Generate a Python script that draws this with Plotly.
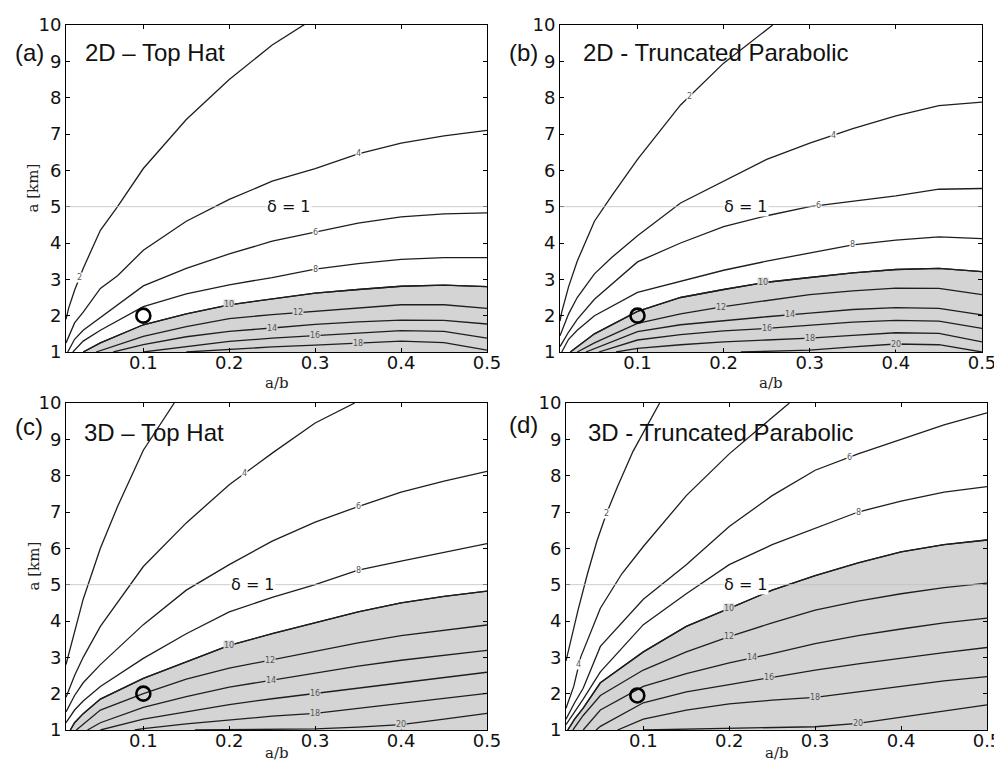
import numpy as np
import plotly.graph_objects as go

# ---------------- data ----------------
LEVELS = [2, 4, 6, 8, 10, 12, 14, 16, 18, 20]
SHADE_LEVEL = 10

# Panel (a) 2D - Top Hat
A_X = [
    [0.01, 0.013, 0.02, 0.03, 0.05, 0.07, 0.1, 0.15, 0.2, 0.25, 0.29],
    [0.01, 0.02, 0.03, 0.05, 0.07, 0.1, 0.15, 0.2, 0.25, 0.3, 0.35, 0.4, 0.45, 0.5],
    [0.012, 0.02, 0.03, 0.05, 0.1, 0.15, 0.2, 0.25, 0.3, 0.35, 0.4, 0.45, 0.5],
    [0.018, 0.03, 0.05, 0.1, 0.15, 0.2, 0.25, 0.3, 0.35, 0.4, 0.45, 0.5],
    [0.03, 0.05, 0.1, 0.15, 0.2, 0.25, 0.3, 0.35, 0.4, 0.45, 0.5],
    [0.045, 0.1, 0.15, 0.2, 0.25, 0.3, 0.35, 0.4, 0.45, 0.5],
    [0.065, 0.1, 0.15, 0.2, 0.25, 0.3, 0.35, 0.4, 0.45, 0.5],
    [0.1, 0.15, 0.2, 0.25, 0.3, 0.35, 0.4, 0.45, 0.5],
    [0.15, 0.2, 0.25, 0.3, 0.35, 0.4, 0.45, 0.5],
]
A_Y = [
    [1.9, 2.2, 2.7, 3.3, 4.35, 5.0, 6.05, 7.4, 8.5, 9.45, 10.05],
    [1.25, 1.8, 2.1, 2.75, 3.1, 3.8, 4.6, 5.2, 5.7, 6.05, 6.45, 6.75, 6.95, 7.1],
    [1.0, 1.35, 1.6, 1.95, 2.82, 3.3, 3.7, 4.05, 4.3, 4.55, 4.72, 4.8, 4.83],
    [1.0, 1.3, 1.6, 2.25, 2.6, 2.85, 3.05, 3.28, 3.43, 3.55, 3.6, 3.6],
    [1.0, 1.25, 1.75, 2.05, 2.3, 2.47, 2.62, 2.72, 2.81, 2.84, 2.8],
    [1.0, 1.43, 1.7, 1.92, 2.03, 2.12, 2.22, 2.3, 2.3, 2.2],
    [1.0, 1.2, 1.42, 1.57, 1.66, 1.76, 1.83, 1.88, 1.87, 1.77],
    [1.0, 1.15, 1.29, 1.38, 1.45, 1.53, 1.59, 1.57, 1.38],
    [1.0, 1.08, 1.14, 1.19, 1.24, 1.3, 1.26, 1.05],
]
A_LABEL_X = [0.026, 0.35, 0.3, 0.3, 0.2, 0.28, 0.25, 0.3, 0.35]

# Panel (b) 2D - Truncated Parabolic
B_X = [
    [0.01, 0.012, 0.02, 0.03, 0.05, 0.07, 0.1, 0.15, 0.2, 0.257],
    [0.01, 0.02, 0.03, 0.05, 0.07, 0.1, 0.15, 0.2, 0.25, 0.3, 0.35, 0.4, 0.45, 0.5],
    [0.01, 0.02, 0.03, 0.05, 0.1, 0.15, 0.2, 0.25, 0.3, 0.35, 0.4, 0.45, 0.5],
    [0.012, 0.02, 0.03, 0.05, 0.1, 0.15, 0.2, 0.25, 0.3, 0.35, 0.4, 0.45, 0.5],
    [0.022, 0.05, 0.1, 0.15, 0.2, 0.25, 0.3, 0.35, 0.4, 0.45, 0.5],
    [0.03, 0.05, 0.1, 0.15, 0.2, 0.25, 0.3, 0.35, 0.4, 0.45, 0.5],
    [0.04, 0.1, 0.15, 0.2, 0.25, 0.3, 0.35, 0.4, 0.45, 0.5],
    [0.055, 0.1, 0.15, 0.2, 0.25, 0.3, 0.35, 0.4, 0.45, 0.5],
    [0.075, 0.1, 0.15, 0.2, 0.25, 0.3, 0.35, 0.4, 0.45, 0.5],
    [0.22, 0.3, 0.35, 0.4, 0.45, 0.5],
]
B_Y = [
    [1.85, 2.1, 2.8, 3.5, 4.6, 5.3, 6.3, 7.8, 8.95, 10.0],
    [1.45, 2.05, 2.5, 3.15, 3.6, 4.2, 5.1, 5.7, 6.3, 6.75, 7.15, 7.5, 7.78, 7.88],
    [1.15, 1.55, 1.9, 2.45, 3.48, 4.0, 4.45, 4.75, 5.0, 5.15, 5.3, 5.48, 5.5],
    [1.0, 1.35, 1.6, 2.0, 2.64, 2.95, 3.25, 3.5, 3.72, 3.95, 4.08, 4.17, 4.12],
    [1.0, 1.5, 2.12, 2.5, 2.72, 2.92, 3.05, 3.18, 3.27, 3.3, 3.21],
    [1.0, 1.25, 1.79, 2.05, 2.25, 2.42, 2.58, 2.68, 2.76, 2.75, 2.58],
    [1.0, 1.56, 1.75, 1.87, 1.97, 2.07, 2.17, 2.22, 2.2, 2.02],
    [1.0, 1.33, 1.48, 1.58, 1.65, 1.74, 1.82, 1.87, 1.85, 1.65],
    [1.0, 1.1, 1.2, 1.28, 1.33, 1.38, 1.46, 1.53, 1.51, 1.28],
    [1.0, 1.05, 1.14, 1.22, 1.2, 1.0],
]
B_LABEL_X = [0.16, 0.327, 0.31, 0.35, 0.246, 0.197, 0.277, 0.25, 0.3, 0.4]

# Panel (c) 3D - Top Hat
C_X = [
    [0.01, 0.02, 0.03, 0.05, 0.07, 0.1, 0.136],
    [0.01, 0.02, 0.03, 0.05, 0.1, 0.15, 0.2, 0.25, 0.3, 0.346],
    [0.01, 0.02, 0.03, 0.05, 0.1, 0.15, 0.2, 0.25, 0.3, 0.35, 0.4, 0.45, 0.5],
    [0.01, 0.02, 0.03, 0.05, 0.1, 0.15, 0.2, 0.25, 0.3, 0.35, 0.4, 0.45, 0.5],
    [0.015, 0.02, 0.03, 0.05, 0.1, 0.15, 0.2, 0.25, 0.3, 0.35, 0.4, 0.45, 0.5],
    [0.022, 0.05, 0.1, 0.15, 0.2, 0.25, 0.3, 0.35, 0.4, 0.45, 0.5],
    [0.035, 0.05, 0.1, 0.15, 0.2, 0.25, 0.3, 0.35, 0.4, 0.45, 0.5],
    [0.05, 0.1, 0.15, 0.2, 0.25, 0.3, 0.35, 0.4, 0.45, 0.5],
    [0.09, 0.1, 0.15, 0.2, 0.25, 0.3, 0.35, 0.4, 0.45, 0.5],
    [0.16, 0.3, 0.35, 0.4, 0.45, 0.5],
]
C_Y = [
    [2.8, 3.7, 4.6, 6.0, 7.15, 8.7, 10.0],
    [1.9, 2.5, 3.0, 3.85, 5.5, 6.7, 7.75, 8.62, 9.45, 10.0],
    [1.5, 1.95, 2.3, 2.8, 3.9, 4.85, 5.55, 6.2, 6.72, 7.15, 7.55, 7.85, 8.12],
    [1.2, 1.55, 1.8, 2.2, 2.97, 3.65, 4.25, 4.65, 5.0, 5.4, 5.65, 5.9, 6.13],
    [1.0, 1.2, 1.45, 1.85, 2.42, 2.88, 3.33, 3.65, 3.94, 4.25, 4.5, 4.68, 4.82],
    [1.0, 1.55, 2.0, 2.4, 2.7, 2.93, 3.18, 3.4, 3.6, 3.75, 3.89],
    [1.0, 1.2, 1.62, 1.92, 2.18, 2.38, 2.58, 2.76, 2.92, 3.06, 3.19],
    [1.0, 1.3, 1.5, 1.7, 1.86, 2.01, 2.15, 2.3, 2.45, 2.59],
    [1.0, 1.04, 1.17, 1.28, 1.38, 1.46, 1.6, 1.74, 1.88, 2.01],
    [1.0, 1.03, 1.08, 1.15, 1.3, 1.46],
]
C_LABEL_X = [None, 0.218, 0.35, 0.35, 0.2, 0.247, 0.249, 0.3, 0.3, 0.4]

# Panel (d) 3D - Truncated Parabolic
D_X = [
    [0.01, 0.015, 0.024, 0.035, 0.046, 0.057, 0.07, 0.088, 0.1, 0.119],
    [0.01, 0.019, 0.027, 0.05, 0.075, 0.1, 0.15, 0.2, 0.25, 0.27],
    [0.01, 0.02, 0.03, 0.05, 0.1, 0.15, 0.2, 0.25, 0.3, 0.35, 0.4, 0.45, 0.5],
    [0.01, 0.02, 0.03, 0.05, 0.1, 0.15, 0.2, 0.25, 0.3, 0.35, 0.4, 0.45, 0.5],
    [0.012, 0.02, 0.03, 0.05, 0.1, 0.15, 0.2, 0.25, 0.3, 0.35, 0.4, 0.45, 0.5],
    [0.018, 0.03, 0.05, 0.1, 0.15, 0.2, 0.25, 0.3, 0.35, 0.4, 0.45, 0.5],
    [0.03, 0.05, 0.1, 0.15, 0.2, 0.25, 0.3, 0.35, 0.4, 0.45, 0.5],
    [0.045, 0.05, 0.1, 0.15, 0.2, 0.25, 0.3, 0.35, 0.4, 0.45, 0.5],
    [0.07, 0.1, 0.15, 0.2, 0.25, 0.3, 0.35, 0.4, 0.45, 0.5],
    [0.1, 0.3, 0.35, 0.4, 0.45, 0.5],
]
D_Y = [
    [2.9, 3.4, 4.3, 5.3, 6.2, 6.95, 7.7, 8.67, 9.2, 10.0],
    [1.6, 2.2, 3.0, 4.35, 5.3, 6.05, 7.45, 8.6, 9.6, 10.0],
    [1.3, 1.75, 2.15, 3.3, 4.6, 5.55, 6.6, 7.45, 8.15, 8.6, 9.0, 9.4, 9.73],
    [1.15, 1.5, 1.85, 2.6, 3.9, 4.75, 5.55, 6.1, 6.55, 7.0, 7.3, 7.55, 7.7],
    [1.0, 1.3, 1.6, 2.3, 3.15, 3.85, 4.35, 4.85, 5.25, 5.6, 5.9, 6.1, 6.23],
    [1.0, 1.4, 1.95, 2.65, 3.15, 3.57, 3.95, 4.3, 4.55, 4.75, 4.92, 5.04],
    [1.0, 1.55, 2.2, 2.55, 2.85, 3.1, 3.38, 3.6, 3.78, 3.95, 4.08],
    [1.0, 1.1, 1.75, 2.05, 2.25, 2.45, 2.65, 2.82, 2.98, 3.13, 3.27],
    [1.0, 1.3, 1.55, 1.72, 1.82, 1.9, 2.05, 2.2, 2.35, 2.47],
    [1.0, 1.09, 1.18, 1.35, 1.5, 1.69],
]
D_LABEL_X = [0.057, 0.025, 0.34, 0.35, 0.2, 0.2, 0.227, 0.246, 0.3, 0.35]

PANEL_LETTERS = ["(a)", "(b)", "(c)", "(d)"]
PANEL_TITLES = ["2D \u2013 Top Hat", "2D - Truncated Parabolic",
                "3D \u2013 Top Hat", "3D - Truncated Parabolic"]
X_TITLE = "a/b"
Y_TITLE = "a [km]"
CIRCLE_X = [0.1, 0.1, 0.1, 0.093]
CIRCLE_Y = [2.0, 2.0, 2.0, 1.95]
DELTA_Y = 5.0
DELTA_LABEL_X = [0.27, 0.226, 0.228, 0.22]
X_TICKS = [0.1, 0.2, 0.3, 0.4, 0.5]
Y_TICKS = [1, 2, 3, 4, 5, 6, 7, 8, 9, 10]
X_RANGE = [0.01, 0.5]
Y_RANGE = [1, 10]

# ---------------- layout geometry ----------------
# target positions are screenshot pixels; the page body adds an 8px offset
OFF = 8
W, H = 1002 - OFF, 771 - OFF
# pixel boxes (left, right, top, bottom) in screenshot pixels
BOXES = [(66, 487, 25, 352), (560, 982, 25, 352),
         (66, 487, 403, 730), (566, 987, 403, 730)]
LETTER_POS = [(29, 52), (523, 53), (29, 426), (523, 424)]
TITLE_POS = [(83, 52), (581, 53), (82, 432), (586, 432)]
XTITLE_Y = [383, 383, 753, 753]
YTITLE_X = 33


def fx(px):
    return (px - OFF) / W


def fy(py):
    return 1 - (py - OFF) / H


GRAY = "#d4d4d4"
LINE = "#1e1e1e"

fig = go.Figure()
layout = dict(width=W, height=H, margin=dict(l=0, r=0, t=0, b=0, autoexpand=False),
              paper_bgcolor="white", plot_bgcolor="white", showlegend=False)
annotations = []
shapes = []

panels = [(A_X, A_Y, A_LABEL_X), (B_X, B_Y, B_LABEL_X),
          (C_X, C_Y, C_LABEL_X), (D_X, D_Y, D_LABEL_X)]

for i, (PX, PY, LX) in enumerate(panels):
    n = i + 1
    xa = "x" if n == 1 else f"x{n}"
    ya = "y" if n == 1 else f"y{n}"
    l, r, t, b = BOXES[i]
    axis_common = dict(showgrid=False, zeroline=False, showline=True, linecolor="black",
                       linewidth=1, mirror="ticks", ticks="inside", ticklen=4,
                       automargin=False, tickcolor="black",
                       tickfont=dict(family="DejaVu Sans", size=18, color="#111"))
    layout["xaxis" if n == 1 else f"xaxis{n}"] = dict(
        axis_common, domain=[fx(l), fx(r)], range=X_RANGE, tickvals=X_TICKS,
        ticktext=[f"{v:.1f}" for v in X_TICKS], anchor=ya, ticklabelstandoff=-6)
    layout["yaxis" if n == 1 else f"yaxis{n}"] = dict(
        axis_common, domain=[fy(b), fy(t)], range=Y_RANGE, tickvals=Y_TICKS,
        anchor=xa)

    levels = LEVELS[:len(PX)]
    # shaded region (values above SHADE_LEVEL lie below that contour)
    k = levels.index(SHADE_LEVEL)
    fig.add_trace(go.Scatter(x=PX[k], y=PY[k], mode="lines", fill="tozeroy",
                             fillcolor=GRAY, line=dict(color=LINE, width=1.3),
                             xaxis=xa, yaxis=ya, hoverinfo="skip"))
    # contour lines
    for j, lev in enumerate(levels):
        fig.add_trace(go.Scatter(x=PX[j], y=PY[j], mode="lines",
                                 line=dict(color=LINE, width=1.3),
                                 xaxis=xa, yaxis=ya, name=str(lev)))
        if LX[j] is not None:
            ly = float(np.interp(LX[j], PX[j], PY[j]))
            annotations.append(dict(
                x=LX[j], y=ly, xref=xa, yref=ya, text=str(lev), showarrow=False,
                font=dict(family="DejaVu Sans", size=8, color="#555"),
                bgcolor="white" if lev < SHADE_LEVEL else GRAY, borderpad=0))
    # delta = 1 line
    shapes.append(dict(type="line", xref=f"{xa} domain", yref=ya, x0=0, x1=1,
                       y0=DELTA_Y, y1=DELTA_Y, line=dict(color="#c2c2c2", width=0.8),
                       layer="above"))
    annotations.append(dict(x=DELTA_LABEL_X[i], y=DELTA_Y, xref=xa, yref=ya,
                            text="\u03b4 = 1", showarrow=False, bgcolor="white",
                            font=dict(family="DejaVu Sans", size=16, color="#111"),
                            borderpad=0))
    # circle marker
    fig.add_trace(go.Scatter(x=[CIRCLE_X[i]], y=[CIRCLE_Y[i]], mode="markers",
                             marker=dict(symbol="circle-open", size=14, color="black",
                                         line=dict(width=2.6, color="black")),
                             xaxis=xa, yaxis=ya))
    # axis titles
    annotations.append(dict(x=fx((l + r) / 2), y=fy(XTITLE_Y[i]), xref="paper",
                            yref="paper", text=X_TITLE, showarrow=False,
                            xanchor="center", yanchor="middle",
                            font=dict(family="DejaVu Serif", size=15, color="#222")))
    if n in (1, 3):
        annotations.append(dict(x=fx(YTITLE_X), y=fy((t + b) / 2), xref="paper",
                                yref="paper", text=Y_TITLE, showarrow=False, textangle=-90,
                                xanchor="center", yanchor="middle",
                                font=dict(family="DejaVu Serif", size=15, color="#222")))
    # panel letter and title
    lx_, ly_ = LETTER_POS[i]
    annotations.append(dict(x=fx(lx_), y=fy(ly_), xref="paper", yref="paper",
                            text=PANEL_LETTERS[i], showarrow=False, xanchor="center",
                            yanchor="middle",
                            font=dict(family="Liberation Sans", size=24, color="#111")))
    tx, ty = TITLE_POS[i]
    annotations.append(dict(x=fx(tx), y=fy(ty), xref="paper", yref="paper",
                            text=PANEL_TITLES[i], showarrow=False, xanchor="left",
                            yanchor="middle",
                            font=dict(family="Liberation Sans", size=24, color="#111")))

layout["annotations"] = annotations
layout["shapes"] = shapes
fig.update_layout(**layout)
fig.write_html("out.html")
